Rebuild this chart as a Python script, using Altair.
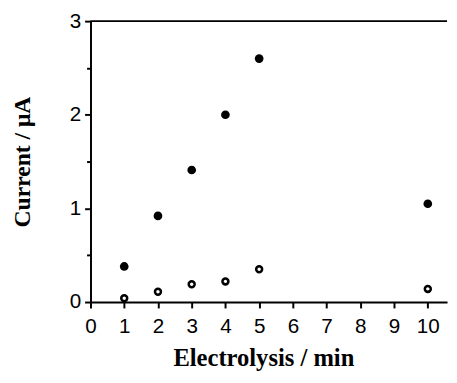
import altair as alt
import pandas as pd

times = [1, 2, 3, 4, 5, 10]
filled_current = [0.38, 0.92, 1.41, 2.00, 2.60, 1.05]
open_current = [0.04, 0.11, 0.19, 0.22, 0.35, 0.14]
x_ticks = [0, 1, 2, 3, 4, 5, 6, 7, 8, 9, 10]
y_ticks = [0, 0.5, 1, 1.5, 2, 2.5, 3]

df_f = pd.DataFrame({"t": times, "c": filled_current})
df_o = pd.DataFrame({"t": times, "c": open_current})

x_enc = alt.X(
    "t:Q",
    scale=alt.Scale(domain=[0, 10.57], nice=False, zero=False),
    axis=alt.Axis(
        values=x_ticks,
        format="d",
        title="Electrolysis / min",
        titleFont="Liberation Serif",
        titleFontWeight="bold",
        titleFontSize=25,
        titleColor="black",
        titlePadding=10,
        titleX=176,
        labelFont="Liberation Sans",
        labelFontSize=21,
        labelColor="black",
        labelPadding=8,
        labelFlush=False,
        tickSize=6,
        tickWidth=2,
        tickColor="black",
        domainColor="black",
        domainWidth=2,
        grid=False,
    ),
)
y_enc = alt.Y(
    "c:Q",
    scale=alt.Scale(domain=[0, 3], nice=False),
    axis=alt.Axis(
        values=y_ticks,
        labelExpr="datum.value % 1 === 0 ? format(datum.value, 'd') : ''",
        title="Current / μA",
        titleFont="Liberation Serif",
        titleFontWeight="bold",
        titleFontSize=24,
        titleColor="black",
        titlePadding=35,
        labelFont="Liberation Sans",
        labelFontSize=21,
        labelColor="black",
        labelPadding=4,
        labelFlush=False,
        tickSize={"condition": {"test": "datum.value % 1 !== 0", "value": 4}, "value": 6},
        tickWidth=2,
        tickColor="black",
        domainColor="black",
        domainWidth=2,
        grid=False,
    ),
)

top_rule = alt.Chart(pd.DataFrame({"y": [3]})).mark_rule(
    color="black", strokeWidth=2
).encode(y=alt.Y("y:Q", scale=alt.Scale(domain=[0, 3], nice=False)))

filled = alt.Chart(df_f).mark_point(
    shape="circle", filled=True, color="black", size=78, opacity=1
).encode(x=x_enc, y=y_enc)

open_pts = alt.Chart(df_o).mark_point(
    shape="circle", filled=False, color="black", size=36, strokeWidth=2.6, opacity=1
).encode(x=x_enc, y=y_enc)

chart = alt.layer(top_rule, filled, open_pts).properties(
    width=363,
    height=286,
    autosize=alt.AutoSizeParams(type="none"),
    padding={"left": 84, "top": 10, "right": 2, "bottom": 75},
    background="white",
).configure_view(stroke=None)

chart.save("out.html", embed_options={"renderer": "svg", "actions": False})
